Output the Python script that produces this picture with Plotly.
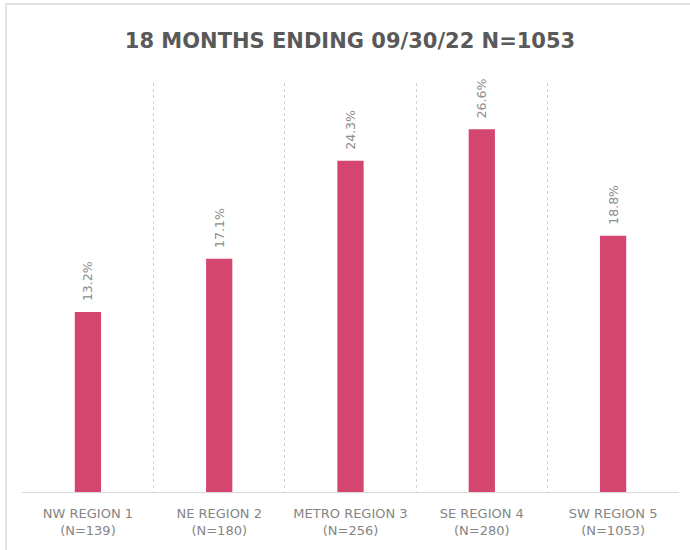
import plotly.graph_objects as go

categories = ["NW REGION 1<br>(N=139)", "NE REGION 2<br>(N=180)", "METRO REGION 3<br>(N=256)",
              "SE REGION 4<br>(N=280)", "SW REGION 5<br>(N=1053)"]
values = [13.2, 17.1, 24.3, 26.6, 18.8]
labels = ["13.2%", "17.1%", "24.3%", "26.6%", "18.8%"]

xpos = list(range(len(categories)))

W, H = 690, 550
ML, MR, MT, MB = 22, 11, 83, 58
PW, PH = W - ML - MR, H - MT - MB

fig = go.Figure(go.Bar(
    x=xpos, y=values, text=labels, width=0.2,
    texttemplate="\u00a0\u00a0%{text}",
    marker=dict(color="#D4466F", line=dict(width=0)),
    textposition="outside", textangle=-90, constraintext="none",
    textfont=dict(family="DejaVu Sans", size=12.5, color="#8c8c8c"),
    cliponaxis=False, hoverinfo="skip",
))

fig.update_layout(
    width=W, height=H,
    margin=dict(l=ML, r=MR, t=MT, b=MB),
    paper_bgcolor="white", plot_bgcolor="white",
    showlegend=False,
    title=dict(text="<b>18 MONTHS ENDING 09/30/22 N=1053</b>", x=350 / W, xanchor="center",
               y=1 - 41 / H, yanchor="middle",
               font=dict(family="DejaVu Sans", size=21, color="#595959")),
    xaxis=dict(range=[-0.502, 4.502], tickmode="array", tickvals=xpos, ticktext=categories,
               showgrid=False, zeroline=False, showline=True, linecolor="#d9d9d9", linewidth=1,
               ticks="", ticklen=0, ticklabelstandoff=9,
               tickfont=dict(family="DejaVu Sans", size=13, color="#858585"),
               automargin=False,
               minor=dict(tickmode="linear", tick0=-0.5, dtick=1, showgrid=True,
                          gridcolor="#d0d0d0", griddash="dot", gridwidth=1)),
    yaxis=dict(range=[0, 30], showgrid=False, zeroline=False, showticklabels=False, ticks="",
               automargin=False),
    shapes=[dict(type="rect", xref="paper", yref="paper",
                 x0=(6 - ML) / PW, x1=1.2, y0=-0.5, y1=(H - MB - 4) / PH,
                 line=dict(color="#d9d9d9", width=1.5), fillcolor="rgba(0,0,0,0)", layer="below")],
)

fig.write_html("out.html", config={"displayModeBar": False},
               post_script="document.body.style.margin='0';")
